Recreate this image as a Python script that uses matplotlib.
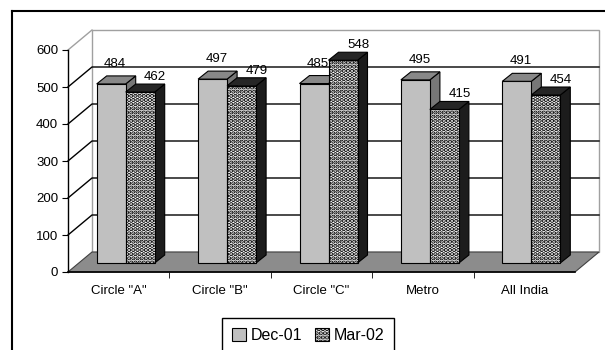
import numpy as np
import matplotlib.pyplot as plt
from matplotlib.patches import Polygon, Patch
from matplotlib.lines import Line2D

# data
categories = ['Circle "A"', 'Circle "B"', 'Circle "C"', 'Metro', 'All India']
dec01 = [484, 497, 485, 495, 491]
mar02 = [462, 479, 548, 415, 454]
series_names = ['Dec-01', 'Mar-02']
yticks = [0, 100, 200, 300, 400, 500, 600]

plt.rcParams['font.family'] = ['Liberation Sans', 'DejaVu Sans']
plt.rcParams['hatch.color'] = 'black'
plt.rcParams['hatch.linewidth'] = 2.2

fig = plt.figure(figsize=(6.05, 3.5), dpi=100)
# front plane of the fake 3d box (pixels)
x_left, x_right, y_zero, y_top = 68, 575, 272, 50
ax = fig.add_axes([x_left / 605, (350 - y_zero) / 350,
                   (x_right - x_left) / 605, (y_zero - y_top) / 350])
ncat = len(categories)
ymax = yticks[-1]
ax.set_xlim(0, ncat)
ax.set_ylim(0, ymax)

# pixel -> data units
px = ncat / (x_right - x_left)
py = ymax / (y_zero - y_top)
DX, DY = 24 * px, 20 * py      # depth of the box
BX, BY = 11 * px, 9 * py       # bar front plane
bdx, bdy = 10 * px, 8 * py     # depth of a bar
bw = 29 * px

# walls and floor
ax.add_patch(Polygon([(DX, DY), (ncat + DX, DY), (ncat + DX, ymax + DY), (DX, ymax + DY)],
                     closed=True, fc='white', ec='#a0a0a0', lw=1, clip_on=False, zorder=0))
ax.plot([0, DX], [ymax, ymax + DY], color='#a0a0a0', lw=1, clip_on=False, zorder=1)
for v in yticks[1:-1]:
    ax.plot([0, DX, ncat + DX], [v, v + DY, v + DY], color='black', lw=1,
            clip_on=False, zorder=1)
ax.add_patch(Polygon([(0, 0), (ncat, 0), (ncat + DX, DY), (DX, DY)], closed=True,
                     fc='#8c8c8c', ec='#404040', lw=0.8, clip_on=False, zorder=1))

x = np.arange(ncat) + 0.5


def box(left, v, front, top, side, hatch=None, z=3):
    ax.bar(left + BX, v, width=bw, bottom=BY, align='edge', fc=front, ec='black',
           lw=0.8, hatch=hatch, zorder=z + 0.1, clip_on=False)
    r = left + BX + bw
    ax.add_patch(Polygon([(r, BY), (r + bdx, BY + bdy), (r + bdx, v + BY + bdy), (r, v + BY)],
                         closed=True, fc=side, ec='black', lw=0.8, zorder=z, clip_on=False))
    ax.add_patch(Polygon([(left + BX, v + BY), (r, v + BY), (r + bdx, v + BY + bdy),
                          (left + BX + bdx, v + BY + bdy)],
                         closed=True, fc=top, ec='black', lw=0.8, zorder=z + 0.2, clip_on=False))


for i in range(ncat):
    box(x[i] - 33 * px, dec01[i], '#c0c0c0', '#888888', '#777777', z=3)
    box(x[i] - 4 * px, mar02[i], 'white', '#262626', '#1c1c1c', hatch='....', z=4)
    ax.text(x[i] - 33 * px + BX + bw / 2 + 4 * px, dec01[i] + BY + 20 * py, str(dec01[i]),
            ha='center', va='center', fontsize=9.5, zorder=6)
    ax.text(x[i] - 4 * px + BX + bw / 2 + 15 * px, mar02[i] + BY + 15 * py, str(mar02[i]),
            ha='center', va='center', fontsize=9.5, zorder=6)

# axes
for s in ['top', 'right']:
    ax.spines[s].set_visible(False)
ax.spines['left'].set_linewidth(1)
ax.spines['bottom'].set_linewidth(1.2)
ax.patch.set_visible(False)
ax.set_yticks(yticks)
ax.tick_params(axis='y', direction='out', length=4, labelsize=9.5, pad=3)
ax.set_xticks(x)
ax.set_xticklabels(categories)
ax.tick_params(axis='x', length=0, labelsize=9.5, pad=9)
ax.set_xticks(np.arange(1, ncat), minor=True)
ax.tick_params(axis='x', which='minor', direction='out', length=4)

# legend
handles = [Patch(fc='#c0c0c0', ec='black', lw=0.8),
           Patch(fc='white', ec='black', lw=0.8, hatch='....')]
leg = fig.legend(handles, series_names, loc='upper left',
                 bbox_to_anchor=(222 / 605, 1 - 318 / 350), ncol=2, frameon=True,
                 fancybox=False, edgecolor='black', framealpha=1, fontsize=11.5,
                 handlelength=0.9, handleheight=0.9, handletextpad=0.3,
                 columnspacing=0.8, borderpad=0.6, borderaxespad=0)
leg.get_frame().set_linewidth(1)

# outer chart frame
fig.add_artist(Line2D([12 / 605, 12 / 605], [0, 1 - 11 / 350], color='black', lw=1.5,
                      transform=fig.transFigure))
fig.add_artist(Line2D([12 / 605, 1], [1 - 11 / 350, 1 - 11 / 350], color='black', lw=1.5,
                      transform=fig.transFigure))

fig.savefig('out.png', dpi=100)
